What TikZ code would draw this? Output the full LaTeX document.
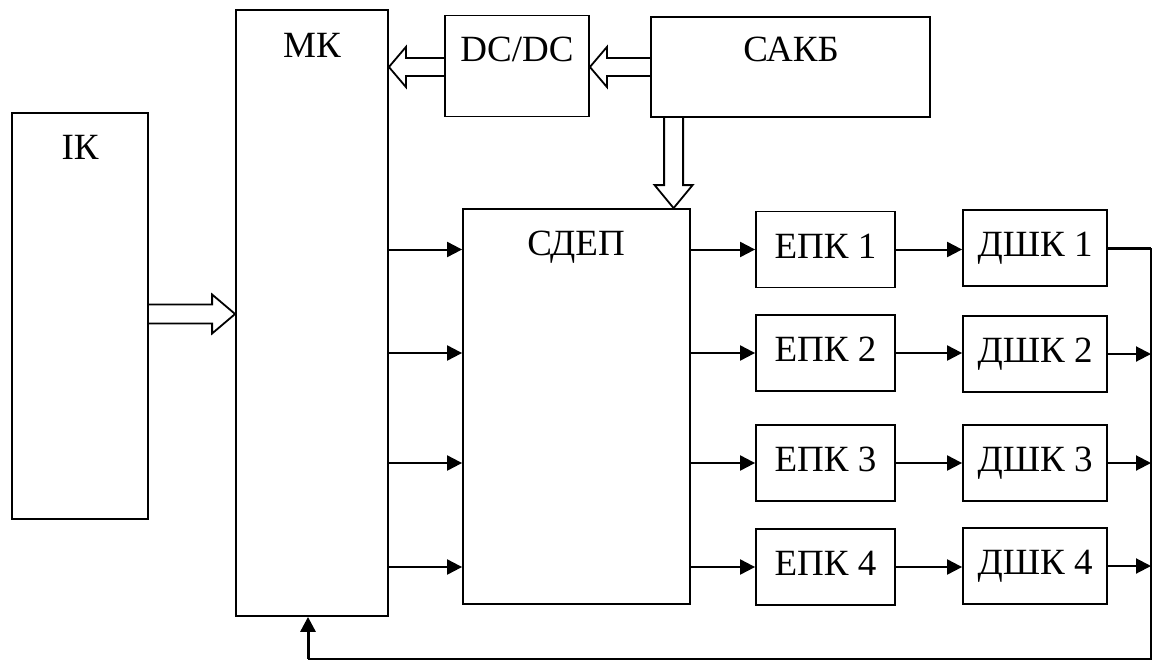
\documentclass[tikz,border=0pt]{standalone}
\usepackage{fontspec}
\setmainfont{Liberation Serif}
\usetikzlibrary{arrows.meta,calc}

\begin{document}
\begin{tikzpicture}[
  x=1pt,y=-1pt,
  bigbox/.style={draw,line width=1.8pt,inner sep=0pt},
  unitbox/.style={draw,line width=1.8pt,inner sep=0pt,minimum width=139pt,minimum height=76pt,font=\fontsize{37}{40}\selectfont,text height=25pt,text depth=8pt},
  boxtext/.style={inner sep=0pt,anchor=base,font=\fontsize{37}{40}\selectfont},
  sig/.style={line width=2pt,-{Triangle[length=15pt,width=15pt]}},
  wire/.style={line width=2pt},
  fb/.style={line width=3pt},
  hollow/.style={line width=1.8pt,line join=miter}
]
\useasboundingbox (0,0) rectangle (1153,661);

\node[bigbox,minimum width=136pt,minimum height=406pt] (ik) at (80,316) {};
\node[bigbox,minimum width=152pt,minimum height=606pt] (mk) at (312,313) {};
\node[bigbox,minimum width=144pt,minimum height=101pt] (dcdc) at (517,66) {};
\node[bigbox,minimum width=279pt,minimum height=100pt] (sakb) at (790.5,67) {};
\node[bigbox,minimum width=227pt,minimum height=395pt] (sdep) at (576.5,406.5) {};

\node[boxtext] (ik-t) at (80,159) {ІК};
\node[boxtext] (mk-t) at (312,57) {МК};
\node[boxtext] (dcdc-t) at (517,62) {DC/DC};
\node[boxtext] (sakb-t) at (791,62) {САКБ};
\node[boxtext] (sdep-t) at (576,255) {СДЕП};

\node[unitbox] (epk1) at (825.5,249.5) {ЕПК 1};
\node[unitbox] (epk2) at (825.5,353) {ЕПК 2};
\node[unitbox] (epk3) at (825.5,463) {ЕПК 3};
\node[unitbox] (epk4) at (825.5,567) {ЕПК 4};
\node[unitbox,minimum width=144pt] (dshk1) at (1035,248) {ДШК 1};
\node[unitbox,minimum width=144pt] (dshk2) at (1035,354) {ДШК 2};
\node[unitbox,minimum width=144pt] (dshk3) at (1035,463) {ДШК 3};
\node[unitbox,minimum width=144pt] (dshk4) at (1035,566) {ДШК 4};

% wide arrows
\coordinate (dcdc-in) at (dcdc.east |- sakb.west);
\draw[hollow] ([yshift=9pt]sakb.west) -- ([xshift=17pt,yshift=9pt]dcdc-in) -- ([xshift=17pt,yshift=20pt]dcdc-in) -- (dcdc-in)
  -- ([xshift=17pt,yshift=-20pt]dcdc-in) -- ([xshift=17pt,yshift=-9pt]dcdc-in) -- ([yshift=-9pt]sakb.west);
\coordinate (mk-top-in) at (mk.east |- dcdc-in);
\draw[hollow] ([yshift=9pt]dcdc.west |- dcdc-in) -- ([xshift=17pt,yshift=9pt]mk-top-in) -- ([xshift=17pt,yshift=20pt]mk-top-in) -- (mk-top-in)
  -- ([xshift=17pt,yshift=-20pt]mk-top-in) -- ([xshift=17pt,yshift=-9pt]mk-top-in) -- ([yshift=-9pt]dcdc.west |- dcdc-in);
\coordinate (mk-left-in) at (mk.west |- 0,314);
\draw[hollow] ([yshift=9.5pt]ik.east |- mk-left-in) -- ([xshift=-23pt,yshift=9.5pt]mk-left-in) -- ([xshift=-23pt,yshift=19.5pt]mk-left-in) -- (mk-left-in)
  -- ([xshift=-23pt,yshift=-19.5pt]mk-left-in) -- ([xshift=-23pt,yshift=-9.5pt]mk-left-in) -- ([yshift=-9.5pt]ik.east |- mk-left-in);
\coordinate (sakb-out) at ([xshift=23.5pt]sakb.south west);
\coordinate (sdep-top-in) at (sakb-out |- sdep.north);
\draw[hollow] ([xshift=-9.5pt]sakb-out) -- ([xshift=-9.5pt,yshift=23pt]sdep-top-in) -- ([xshift=-19pt,yshift=23pt]sdep-top-in) -- (sdep-top-in)
  -- ([xshift=19pt,yshift=23pt]sdep-top-in) -- ([xshift=9.5pt,yshift=23pt]sdep-top-in) -- ([xshift=9.5pt]sakb-out);

% MK -> СДЕП -> ЕПК -> ДШК
\draw[sig] (mk.east |- epk1.west) -- (sdep.west |- epk1.west);
\draw[sig] (mk.east |- epk2.west) -- (sdep.west |- epk2.west);
\draw[sig] (mk.east |- epk3.west) -- (sdep.west |- epk3.west);
\draw[sig] (mk.east |- epk4.west) -- (sdep.west |- epk4.west);
\draw[sig] (sdep.east |- epk1.west) -- (epk1.west);
\draw[sig] (sdep.east |- epk2.west) -- (epk2.west);
\draw[sig] (sdep.east |- epk3.west) -- (epk3.west);
\draw[sig] (sdep.east |- epk4.west) -- (epk4.west);
\draw[sig] (epk1.east) -- (dshk1.west |- epk1.east);
\draw[sig] (epk2.east) -- (dshk2.west |- epk2.east);
\draw[sig] (epk3.east) -- (dshk3.west |- epk3.east);
\draw[sig] (epk4.east) -- (dshk4.west |- epk4.east);

% feedback
\coordinate (rt) at (1151,248);
\coordinate (rb) at (1151,659);
\coordinate (lb) at (308,659);
\draw[sig] (dshk2.east) -- (rt |- dshk2.east);
\draw[sig] (dshk3.east) -- (rt |- dshk3.east);
\draw[sig] (dshk4.east) -- (rt |- dshk4.east);
\draw[fb] (dshk1.east) -- (rt);
\draw[wire] (rt) -- (rb) -- (lb);
\draw[fb,-{Triangle[length=15pt,width=15pt]}] (lb) -- (lb |- mk.south);
\end{tikzpicture}
\end{document}
